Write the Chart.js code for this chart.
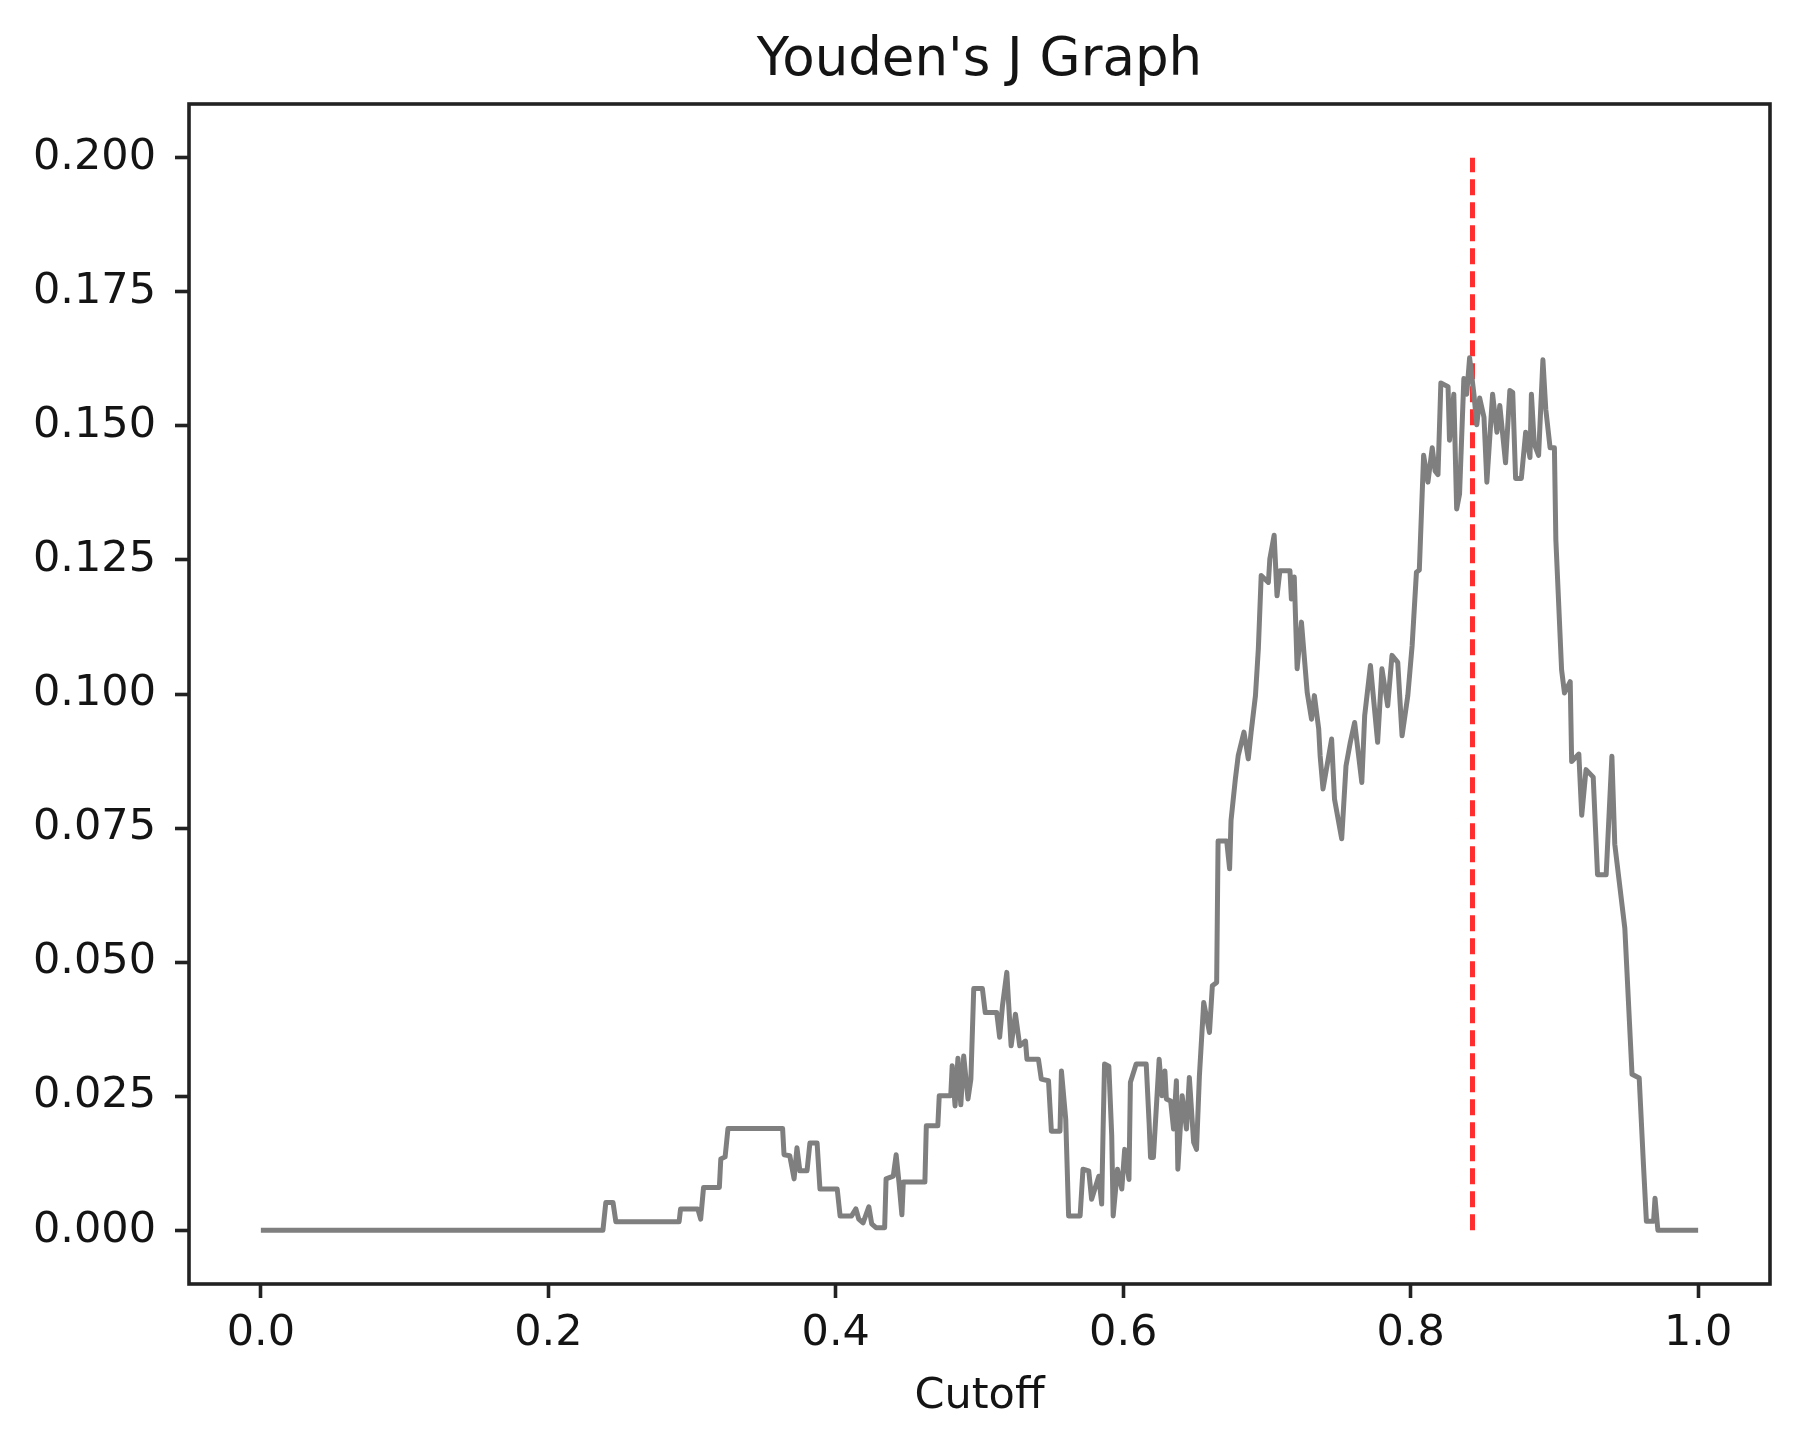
<!DOCTYPE html>
<html>
<head>
<meta charset="utf-8">
<title>Youden's J Graph</title>
<script src="https://cdn.jsdelivr.net/npm/chart.js@4.4.1/dist/chart.umd.min.js"></script>
<style>
  html, body { margin: 0; padding: 0; background: #fff; }
  #wrap { width: 1815px; height: 1447px; }
</style>
</head>
<body>
<div id="wrap"><canvas id="chart"></canvas></div>
<script>
// cutoff values (x) and Youden's J (y)
const cutoffs = [0.000, 0.238, 0.240, 0.245, 0.247, 0.291, 0.292, 0.304, 0.306, 0.308, 0.319, 0.320, 0.323, 0.325, 0.363, 0.364, 0.368, 0.371, 0.373, 0.375, 0.380, 0.382, 0.387, 0.389, 0.401, 0.403, 0.411, 0.414, 0.416, 0.419, 0.423, 0.425, 0.428, 0.434, 0.435, 0.440, 0.442, 0.444, 0.446, 0.447, 0.462, 0.463, 0.471, 0.472, 0.480, 0.481, 0.483, 0.485, 0.487, 0.489, 0.492, 0.494, 0.496, 0.502, 0.504, 0.512, 0.514, 0.516, 0.519, 0.522, 0.525, 0.528, 0.532, 0.533, 0.541, 0.543, 0.548, 0.550, 0.556, 0.557, 0.560, 0.562, 0.570, 0.572, 0.576, 0.578, 0.583, 0.585, 0.586, 0.587, 0.590, 0.592, 0.593, 0.596, 0.599, 0.601, 0.604, 0.605, 0.609, 0.616, 0.618, 0.619, 0.621, 0.625, 0.627, 0.629, 0.630, 0.633, 0.635, 0.637, 0.638, 0.641, 0.644, 0.646, 0.649, 0.651, 0.653, 0.656, 0.660, 0.662, 0.665, 0.666, 0.672, 0.674, 0.675, 0.678, 0.680, 0.684, 0.687, 0.689, 0.692, 0.694, 0.696, 0.701, 0.702, 0.705, 0.707, 0.709, 0.716, 0.717, 0.719, 0.721, 0.724, 0.728, 0.731, 0.733, 0.736, 0.737, 0.739, 0.745, 0.747, 0.752, 0.755, 0.758, 0.761, 0.766, 0.768, 0.772, 0.777, 0.780, 0.784, 0.787, 0.791, 0.794, 0.798, 0.801, 0.804, 0.806, 0.809, 0.812, 0.815, 0.817, 0.819, 0.821, 0.826, 0.827, 0.830, 0.832, 0.834, 0.837, 0.839, 0.841, 0.844, 0.846, 0.848, 0.851, 0.853, 0.857, 0.860, 0.862, 0.866, 0.869, 0.871, 0.873, 0.877, 0.880, 0.883, 0.884, 0.886, 0.889, 0.892, 0.894, 0.897, 0.900, 0.901, 0.905, 0.907, 0.911, 0.912, 0.917, 0.919, 0.922, 0.927, 0.930, 0.936, 0.940, 0.942, 0.949, 0.954, 0.959, 0.962, 0.964, 0.969, 0.970, 0.972, 1.000];
const jValues = [0, 0, 0.0052, 0.0052, 0.0016, 0.0016, 0.0040, 0.0040, 0.0021, 0.0080, 0.0080, 0.0133, 0.0137, 0.0190, 0.0190, 0.0141, 0.0139, 0.0096, 0.0154, 0.0111, 0.0111, 0.0163, 0.0163, 0.0077, 0.0077, 0.0027, 0.0027, 0.0040, 0.0021, 0.0014, 0.0044, 0.0012, 0.0005, 0.0005, 0.0096, 0.0101, 0.0141, 0.0089, 0.0029, 0.0090, 0.0090, 0.0195, 0.0195, 0.0251, 0.0251, 0.0307, 0.0232, 0.0321, 0.0234, 0.0325, 0.0245, 0.0282, 0.0451, 0.0451, 0.0406, 0.0406, 0.0360, 0.0419, 0.0481, 0.0344, 0.0403, 0.0344, 0.0353, 0.0319, 0.0319, 0.0282, 0.0279, 0.0185, 0.0185, 0.0297, 0.0207, 0.0027, 0.0027, 0.0114, 0.0111, 0.0058, 0.0101, 0.0049, 0.0189, 0.0310, 0.0306, 0.0176, 0.0027, 0.0114, 0.0077, 0.0151, 0.0095, 0.0276, 0.0310, 0.0310, 0.0201, 0.0136, 0.0136, 0.0319, 0.0251, 0.0297, 0.0245, 0.0241, 0.0189, 0.0279, 0.0114, 0.0251, 0.0189, 0.0285, 0.0164, 0.0151, 0.0288, 0.0425, 0.0369, 0.0456, 0.0462, 0.0726, 0.0726, 0.0674, 0.0764, 0.0841, 0.0885, 0.0929, 0.0879, 0.0929, 0.0997, 0.1084, 0.1221, 0.1208, 0.1252, 0.1296, 0.1183, 0.1230, 0.1230, 0.1177, 0.1218, 0.1047, 0.1134, 0.1003, 0.0953, 0.0997, 0.0935, 0.0885, 0.0823, 0.0916, 0.0804, 0.0730, 0.0866, 0.0910, 0.0947, 0.0835, 0.0960, 0.1053, 0.0910, 0.1047, 0.0978, 0.1072, 0.1059, 0.0922, 0.0997, 0.1090, 0.1227, 0.1231, 0.1445, 0.1395, 0.1459, 0.1416, 0.1409, 0.1580, 0.1573, 0.1473, 0.1559, 0.1345, 0.1373, 0.1588, 0.1559, 0.1627, 0.1559, 0.1502, 0.1552, 0.1516, 0.1395, 0.1559, 0.1488, 0.1538, 0.1431, 0.1566, 0.1562, 0.1402, 0.1402, 0.1488, 0.1441, 0.1559, 0.1466, 0.1445, 0.1623, 0.1531, 0.1459, 0.1459, 0.1288, 0.1045, 0.1002, 0.1023, 0.0874, 0.0888, 0.0774, 0.0859, 0.0845, 0.0663, 0.0663, 0.0884, 0.0720, 0.0563, 0.0291, 0.0284, 0.0120, 0.0017, 0.0017, 0.0060, 0, 0];

// best cutoff marker (red dashed vertical)
const bestX = [0.843, 0.843];
const bestY = [0, 0.2];

const xTicks = [0, 0.2, 0.4, 0.6, 0.8, 1.0];
const yTicks = [0, 0.025, 0.05, 0.075, 0.1, 0.125, 0.15, 0.175, 0.2];

const INK = '#141414';
Chart.defaults.font.family = "'DejaVu Sans', sans-serif";
Chart.defaults.color = INK;

// matplotlib-like box around the plot area
const frame = {
  id: 'frame',
  afterDatasetsDraw(chart) {
    const { ctx, chartArea: a } = chart;
    ctx.save();
    ctx.strokeStyle = '#222';
    ctx.lineWidth = 3.6;
    ctx.strokeRect(a.left, a.top, a.right - a.left, a.bottom - a.top);
    ctx.restore();
  }
};

const tickGrid = { display: true, drawOnChartArea: false, drawTicks: true, tickLength: 14, tickWidth: 3.6, tickColor: '#222' };

new Chart(document.getElementById('chart'), {
  type: 'scatter',
  data: {
    datasets: [
      {
        data: cutoffs.map((c, i) => ({ x: c, y: jValues[i] })),
        showLine: true, borderColor: '#7f7f7f', borderWidth: 5,
        borderJoinStyle: 'round', pointRadius: 0, tension: 0
      },
      {
        data: bestX.map((c, i) => ({ x: c, y: bestY[i] })),
        showLine: true, borderColor: 'rgb(255,45,45)', borderWidth: 5,
        borderDash: [16, 7], borderCapStyle: 'butt', pointRadius: 0
      }
    ]
  },
  options: {
    responsive: true,
    maintainAspectRatio: false,
    animation: false,
    layout: { padding: { left: 0, right: 45, top: 0, bottom: 0 } },
    plugins: {
      legend: { display: false },
      tooltip: { enabled: false },
      title: { display: false }
    },
    scales: {
      x: {
        type: 'linear', min: -0.05, max: 1.05,
        afterBuildTicks: s => { s.ticks = xTicks.map(v => ({ value: v })); },
        afterFit: s => { s.height = 163; },
        ticks: { font: { size: 43 }, color: INK, padding: 10, callback: v => v.toFixed(1) },
        grid: tickGrid, border: { display: false },
        title: { display: true, text: 'Cutoff', color: INK, font: { size: 43 }, padding: { top: 0, bottom: 24 } }
      },
      // top axis only carries the chart title, centred over the plot area
      top: {
        type: 'linear', position: 'top', min: -0.05, max: 1.05,
        afterFit: s => { s.height = 104; },
        ticks: { display: false },
        grid: { display: false }, border: { display: false },
        title: { display: true, text: "Youden's J Graph", color: INK, font: { size: 53 }, padding: { top: 29, bottom: 0 } }
      },
      y: {
        type: 'linear', min: -0.01, max: 0.21,
        afterBuildTicks: s => { s.ticks = yTicks.map(v => ({ value: v })); },
        afterFit: s => { s.width = 189; },
        ticks: { font: { size: 43 }, color: INK, padding: 19, callback: v => v.toFixed(3) },
        grid: tickGrid, border: { display: false }
      }
    }
  },
  plugins: [frame]
});
</script>
</body>
</html>
